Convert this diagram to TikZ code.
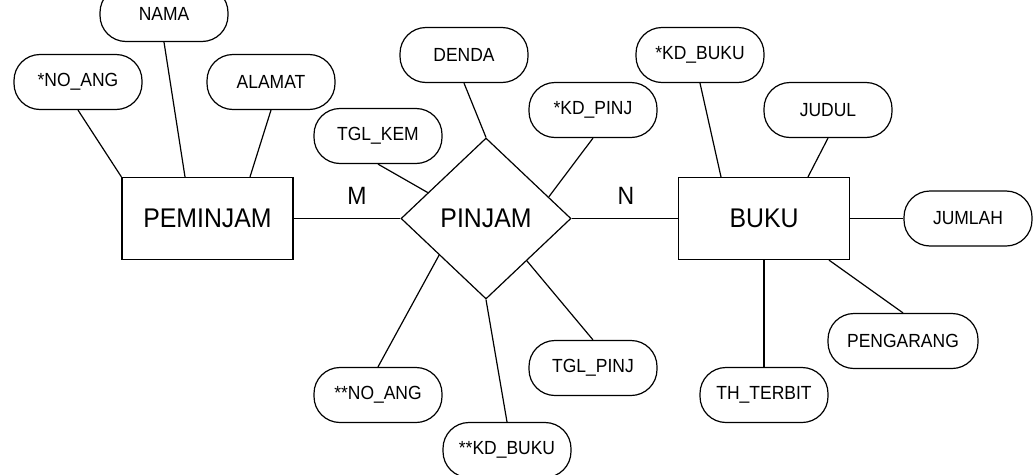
\documentclass[tikz,border=0pt]{standalone}
\usepackage{fontspec}
\setmainfont[FakeStretch=0.92]{Liberation Sans}
\usetikzlibrary{shapes.geometric}

\begin{document}
\begin{tikzpicture}[x=1pt,y=-1pt,line width=1.2pt,
        entitas/.style={draw,minimum width=171pt,minimum height=82pt,inner sep=0pt,
            font=\fontsize{27}{30}\selectfont},
        relasi/.style={draw,diamond,aspect=1.06,minimum width=170pt,minimum height=161pt,
            inner sep=0pt,font=\fontsize{27}{30}\selectfont},
        atribut/.style={draw,rounded corners=26pt,minimum width=128pt,minimum height=55pt,
            inner sep=0pt,font=\fontsize{19}{22}\selectfont},
        kardinal/.style={font=\fontsize{25}{28}\selectfont}]
    \useasboundingbox (0,0) rectangle (1036,474);
    % entitas dan relasi
    \node[entitas] (peminjam) at (207.5,218.5) {PEMINJAM};
    \node[relasi] (pinjam) at (486,218.5) {PINJAM};
    \node[entitas] (buku) at (764,218.5) {BUKU};
    \draw (peminjam.east) -- (pinjam.west);
    \draw (pinjam.east) -- (buku.west);
    \node[kardinal] (m) at (357,196) {M};
    \node[kardinal] (n) at (626,196) {N};
    % atribut PEMINJAM
    \node[atribut] (noang) at (78,82) {*NO\_ANG};
    \node[atribut] (nama) at (164,14) {NAMA};
    \node[atribut] (alamat) at (271,82) {ALAMAT};
    \draw (noang.south) -- (peminjam.north west);
    \draw (nama.south) -- ([xshift=-22.5pt]peminjam.north);
    \draw (alamat.south) -- ([xshift=42.5pt]peminjam.north);
    % atribut PINJAM
    \node[atribut] (tglkem) at (378,136) {TGL\_KEM};
    \node[atribut] (denda) at (464,55) {DENDA};
    \node[atribut] (kdpinj) at (593,110) {*KD\_PINJ};
    \node[atribut] (noang2) at (378,395) {**NO\_ANG};
    \node[atribut] (kdbuku2) at (507,450) {**KD\_BUKU};
    \node[atribut] (tglpinj) at (593,368) {TGL\_PINJ};
    \draw (tglkem.south) -- (pinjam.156);
    \draw (denda.south) -- (pinjam.north);
    \draw (kdpinj.south) -- (pinjam.19);
    \draw (noang2.north) -- (pinjam.218);
    \draw (kdbuku2.north) -- (pinjam.south);
    \draw (tglpinj.north) -- (pinjam.314);
    % atribut BUKU
    \node[atribut] (kdbuku) at (700,55) {*KD\_BUKU};
    \node[atribut] (judul) at (828,110) {JUDUL};
    \node[atribut] (jumlah) at (968,218.5) {JUMLAH};
    \node[atribut,minimum width=150pt] (pengarang) at (903,341) {PENGARANG};
    \node[atribut] (thterbit) at (764,395) {TH\_TERBIT};
    \draw (kdbuku.south) -- ([xshift=-43pt]buku.north);
    \draw (judul.south) -- ([xshift=44pt]buku.north);
    \draw (buku.east) -- (jumlah.west);
    \draw (pengarang.north) -- ([xshift=65pt]buku.south);
    \draw (thterbit.north) -- (buku.south);
\end{tikzpicture}
\end{document}
